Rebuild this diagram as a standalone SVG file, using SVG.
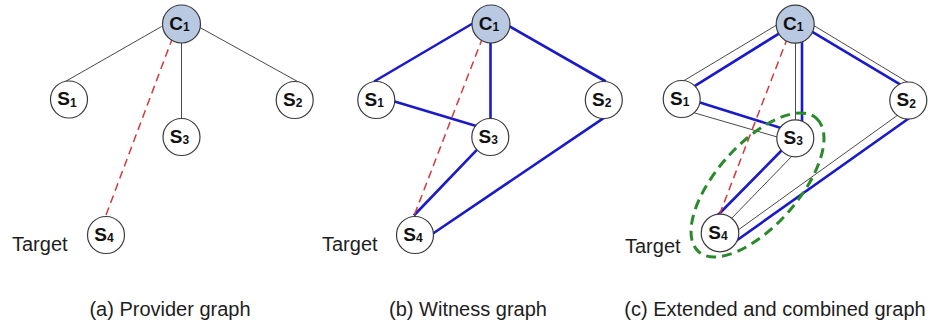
<svg xmlns="http://www.w3.org/2000/svg" width="935" height="327" viewBox="0 0 935 327">
<style>
  text { font-family: "Liberation Sans", Arial, sans-serif; fill: #1e1e1e; }
  .node { fill: #ffffff; stroke: #3a3a3a; stroke-width: 1.2; }
  .cnode { fill: #b9c9e2; stroke: #3a3a3a; stroke-width: 1.2; }
  .lbl { font-size: 19px; font-weight: bold; text-anchor: middle; fill: #111; }
  .sub { font-size: 12px; }
  .thin { stroke: #4a4a4a; stroke-width: 1; fill: none; }
  .blue { stroke: #1a1ac8; stroke-width: 2.6; fill: none; }
  .red { stroke: #d23a3a; stroke-width: 1.5; stroke-dasharray: 8 5; fill: none; }
  .green { stroke: #2a8a2a; stroke-width: 3; stroke-dasharray: 10 6; fill: none; }
  .side { font-size: 20px; }
  .cap { font-size: 20px; text-anchor: middle; }
</style>

<g id="connectors">
  <!-- (a) Provider graph -->
  <line class="thin" x1="161.6" y1="26.5" x2="65.4" y2="81.5"/>
  <line class="thin" x1="199" y1="27" x2="297.6" y2="81.5"/>
  <line class="thin" x1="181.5" y1="40" x2="181.5" y2="121"/>
  <line class="red" x1="172.8" y1="37.2" x2="105" y2="217.8"/>

  <!-- (b) Witness graph -->
  <line class="blue" x1="472.6" y1="23.5" x2="374.1" y2="81.5"/>
  <line class="blue" x1="507.4" y1="25.2" x2="605.9" y2="81.5"/>
  <line class="blue" x1="490.5" y1="40" x2="490.5" y2="121"/>
  <line class="blue" x1="392.1" y1="100.8" x2="479.6" y2="126.9"/>
  <line class="blue" x1="478.8" y1="147.8" x2="413.9" y2="215.5"/>
  <line class="blue" x1="605.8" y1="116.6" x2="430.8" y2="235"/>
  <line class="red" x1="482.8" y1="37.2" x2="413.9" y2="216.1"/>

  <!-- (c) Extended and combined graph -->
  <line class="thin" x1="680" y1="83" x2="780" y2="23"/>
  <line class="blue" x1="690.5" y1="88.6" x2="782.5" y2="31.4"/>
  <line class="thin" x1="795.5" y1="40" x2="795.5" y2="122"/>
  <line class="blue" x1="802" y1="40" x2="802" y2="122"/>
  <line class="thin" x1="810.4" y1="23.5" x2="909" y2="83"/>
  <line class="blue" x1="809.4" y1="30.2" x2="900.9" y2="84.8"/>
  <line class="thin" x1="692" y1="112.2" x2="780" y2="137.8"/>
  <line class="blue" x1="695.1" y1="101.1" x2="780.9" y2="127.9"/>
  <line class="blue" x1="782" y1="150" x2="718" y2="215"/>
  <line class="thin" x1="795" y1="153" x2="730" y2="220"/>
  <line class="thin" x1="900.4" y1="113.2" x2="735.6" y2="231.8"/>
  <line class="blue" x1="910.4" y1="117.3" x2="730.6" y2="244.7"/>
  <line class="red" x1="787.8" y1="37.2" x2="719" y2="215.8"/>
</g>

<!-- Panel (a) nodes -->
<g id="a-C1"><circle class="cnode" cx="181.5" cy="24" r="19"/><text class="lbl" x="179.5" y="29.5">C<tspan class="sub" dy="1.5">1</tspan></text></g>
<g id="a-S1"><circle class="node" cx="69" cy="99.5" r="18.5"/><text class="lbl" x="67" y="105">S<tspan class="sub" dy="1.5">1</tspan></text></g>
<g id="a-S2"><circle class="node" cx="294.7" cy="100" r="18.5"/><text class="lbl" x="292.7" y="105.5">S<tspan class="sub" dy="1.5">2</tspan></text></g>
<g id="a-S3"><circle class="node" cx="181.5" cy="137" r="18.5"/><text class="lbl" x="179.5" y="142.5">S<tspan class="sub" dy="1.5">3</tspan></text></g>
<g id="a-S4"><circle class="node" cx="106" cy="235" r="18.5"/><text class="lbl" x="104" y="240.5">S<tspan class="sub" dy="1.5">4</tspan></text></g>

<!-- Panel (b) nodes -->
<g id="b-C1"><circle class="cnode" cx="491" cy="24" r="19"/><text class="lbl" x="489" y="29.5">C<tspan class="sub" dy="1.5">1</tspan></text></g>
<g id="b-S1"><circle class="node" cx="376.3" cy="100" r="18.5"/><text class="lbl" x="374.3" y="105.5">S<tspan class="sub" dy="1.5">1</tspan></text></g>
<g id="b-S2"><circle class="node" cx="603.8" cy="100" r="18.5"/><text class="lbl" x="601.8" y="105.5">S<tspan class="sub" dy="1.5">2</tspan></text></g>
<g id="b-S3"><circle class="node" cx="490.3" cy="137" r="18.5"/><text class="lbl" x="488.3" y="142.5">S<tspan class="sub" dy="1.5">3</tspan></text></g>
<g id="b-S4"><circle class="node" cx="415" cy="235" r="18.5"/><text class="lbl" x="413" y="240.5">S<tspan class="sub" dy="1.5">4</tspan></text></g>

<!-- Panel (c) nodes -->
<g id="c-C1"><circle class="cnode" cx="795.2" cy="24.2" r="19"/><text class="lbl" x="793.2" y="29.7">C<tspan class="sub" dy="1.5">1</tspan></text></g>
<g id="c-S1"><circle class="node" cx="681.7" cy="99" r="18.5"/><text class="lbl" x="679.7" y="104.5">S<tspan class="sub" dy="1.5">1</tspan></text></g>
<g id="c-S2"><circle class="node" cx="908.3" cy="100.5" r="18.5"/><text class="lbl" x="906.3" y="106">S<tspan class="sub" dy="1.5">2</tspan></text></g>
<g id="c-S3"><circle class="node" cx="795.3" cy="138.3" r="18.5"/><text class="lbl" x="793.3" y="143.8">S<tspan class="sub" dy="1.5">3</tspan></text></g>
<g id="c-S4"><circle class="node" cx="720" cy="233" r="18.8"/><text class="lbl" x="718" y="238.5">S<tspan class="sub" dy="1.5">4</tspan></text></g>

<g id="group-ellipse">
  <ellipse class="green" cx="757.5" cy="185" rx="89" ry="41" transform="rotate(-48.5 757.5 185)"/>
</g>

<g id="labels">
  <text class="side" x="12" y="251">Target</text>
  <text class="side" x="322" y="251">Target</text>
  <text class="side" x="625" y="253">Target</text>
  <text class="cap" x="170" y="316">(a) Provider graph</text>
  <text class="cap" x="468" y="316">(b) Witness graph</text>
  <text class="cap" x="775" y="316">(c) Extended and combined graph</text>
</g>
</svg>
